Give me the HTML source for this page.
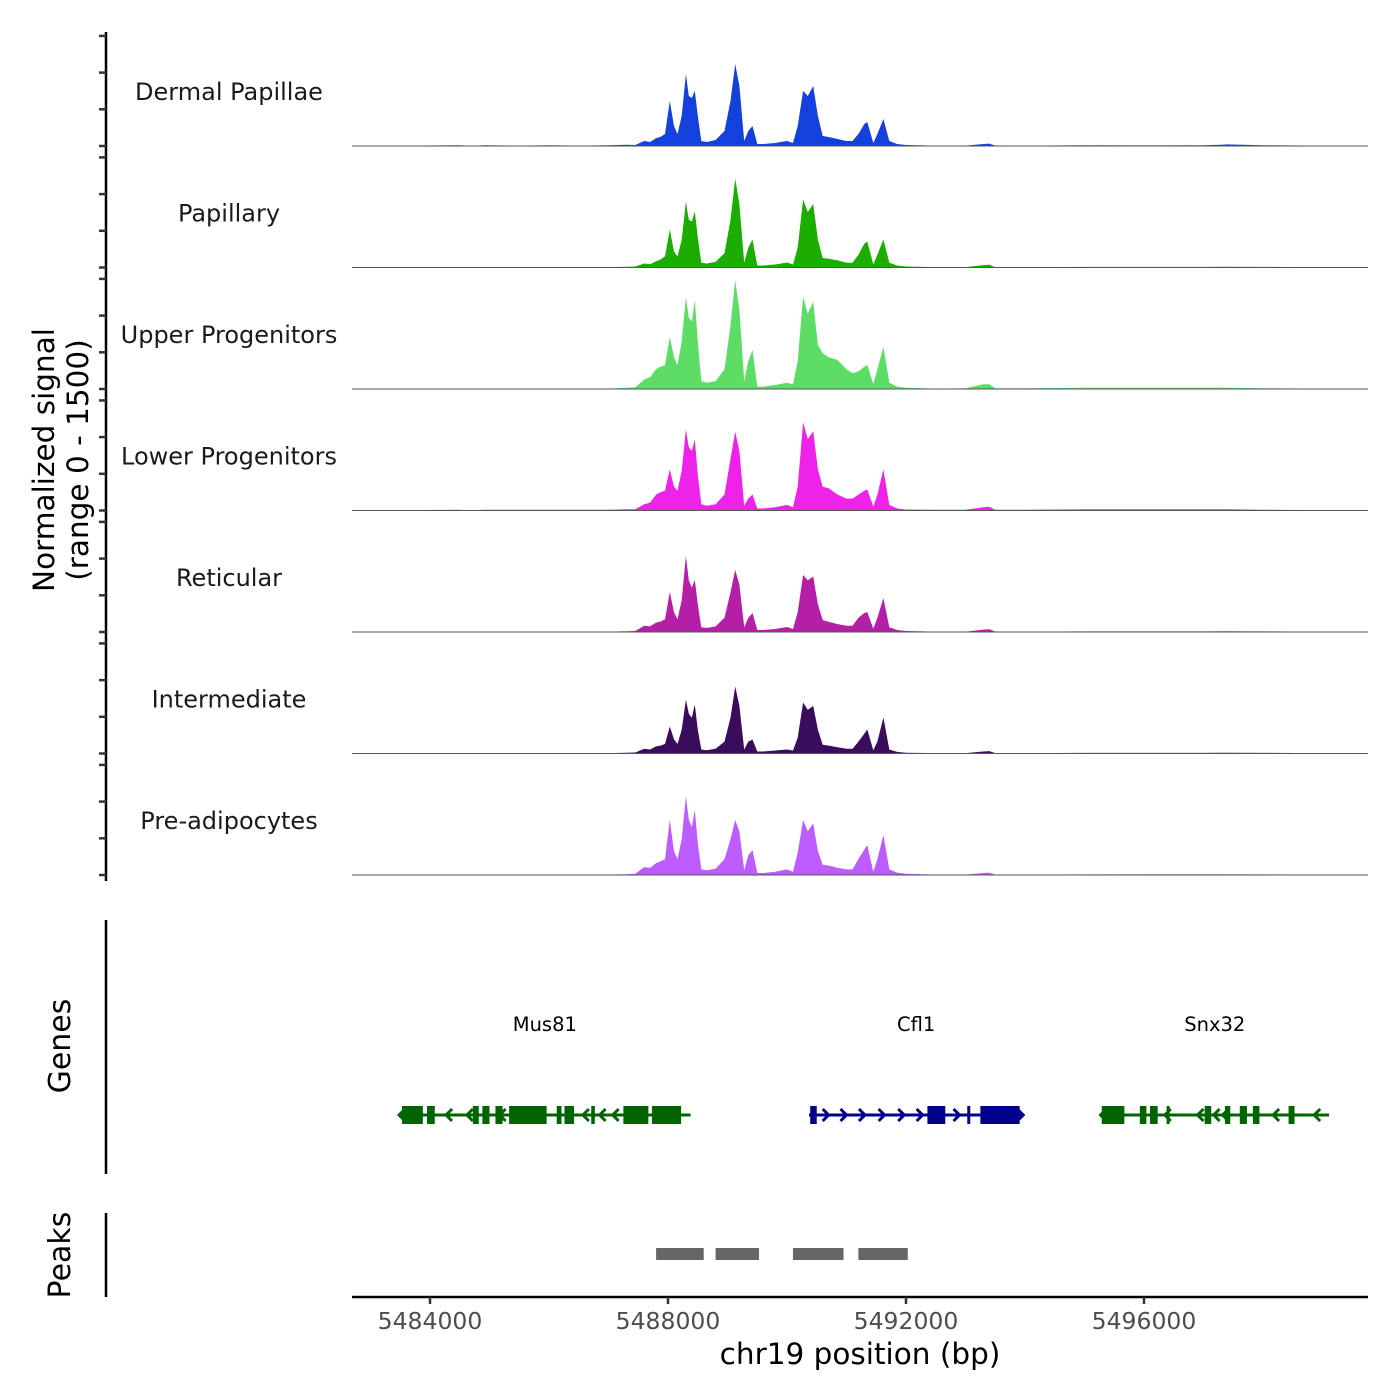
<!DOCTYPE html>
<html><head><meta charset="utf-8"><style>
body{margin:0;background:#fff}
svg{display:block;font-family:"DejaVu Sans","Liberation Sans",sans-serif}
</style></head><body>
<svg id="chart" width="1400" height="1400" viewBox="0 0 1400 1400" xmlns="http://www.w3.org/2000/svg">
<rect width="1400" height="1400" fill="#fff"/>
<g id="tracks"></g>
<line x1="106" y1="32" x2="106" y2="881" stroke="#000" stroke-width="2.5"/>
<g id="yticks"></g>
<text transform="translate(54,460) rotate(-90)" text-anchor="middle" font-size="29.5">Normalized signal</text>
<text transform="translate(88,460) rotate(-90)" text-anchor="middle" font-size="29.5">(range 0 - 1500)</text>
<line x1="106" y1="920" x2="106" y2="1174" stroke="#000" stroke-width="2.5"/>
<text transform="translate(70,1046) rotate(-90)" text-anchor="middle" font-size="30">Genes</text>
<g id="genes"></g>
<line x1="106" y1="1213" x2="106" y2="1297" stroke="#000" stroke-width="2.5"/>
<text transform="translate(70,1255) rotate(-90)" text-anchor="middle" font-size="30">Peaks</text>
<g id="peaks"></g>
<line x1="352" y1="1297" x2="1368" y2="1297" stroke="#000" stroke-width="2.5"/>
<g id="xticks"></g>
<text x="860" y="1364" text-anchor="middle" font-size="29.5">chr19 position (bp)</text>
</svg>
<script>
const NS="http://www.w3.org/2000/svg";
const positions=[5482700,5484500,5484700,5484900,5485500,5486000,5486500,5487000,5487300,5487450,5487600,5487700,5487800,5487870,5487950,5488030,5488100,5488160,5488230,5488300,5488350,5488400,5488450,5488500,5488560,5488650,5488800,5488950,5489050,5489130,5489200,5489280,5489350,5489420,5489500,5489600,5489800,5490000,5490100,5490180,5490270,5490350,5490440,5490520,5490600,5490700,5490850,5491000,5491100,5491200,5491300,5491350,5491450,5491520,5491620,5491720,5491850,5492000,5492500,5493000,5493300,5493400,5493500,5494000,5495000,5496000,5497000,5497300,5497400,5498000,5499000,5499760];
const trackNames=["Dermal Papillae","Papillary","Upper Progenitors","Lower Progenitors","Reticular","Intermediate","Pre-adipocytes"];
const trackColors=["#1440dc","#1bad00","#5ddc66","#ee22e8","#b51fa8","#3a0c5c","#bd5cff"];
const dermal=[0,10,0,10,5,10,5,10,15,13,63,50,100,113,151,567,252,151,378,907,630,605,693,378,63,50,76,189,567,1033,756,63,189,252,25,25,38,63,38,252,693,630,756,378,126,113,88,63,63,151,277,302,38,151,340,63,25,13,5,5,25,30,5,5,10,8,10,15,20,10,5,0];
const papillary=[0,5,0,5,5,5,5,5,10,13,50,40,80,100,140,479,200,140,350,832,600,580,706,380,60,50,70,180,600,1121,800,60,250,353,25,25,38,63,38,250,857,700,800,350,120,110,90,60,60,160,300,328,40,160,353,60,25,13,5,5,30,35,5,5,8,8,8,10,10,8,5,0];
const upper=[0,5,0,5,5,5,5,5,15,20,120,150,250,280,300,655,400,300,600,1159,900,850,1121,600,100,80,100,250,800,1373,1000,100,350,491,30,30,50,80,60,350,1159,950,1100,554,450,400,365,250,200,220,280,302,60,250,529,80,30,15,5,10,60,60,10,10,15,15,15,15,15,10,5,0];
const lower=[0,10,0,10,10,10,10,10,15,15,80,100,200,230,250,517,300,250,500,1021,800,750,895,450,80,60,80,200,650,995,750,60,150,202,25,25,40,70,40,300,1109,900,1000,517,300,280,200,150,150,200,250,265,50,200,517,70,25,13,10,10,40,45,10,10,15,15,15,15,15,10,5,0];
const reticular=[0,5,0,5,5,5,5,5,10,13,80,70,120,130,160,504,250,160,400,958,650,560,655,350,60,50,70,180,500,781,600,60,180,240,25,25,38,63,38,250,718,650,700,350,150,130,100,80,80,180,240,252,40,180,428,60,25,13,5,5,30,35,5,5,8,8,8,10,10,8,5,0];
const intermediate=[0,5,0,5,5,5,5,5,10,13,60,50,90,100,120,340,180,120,300,680,500,450,617,300,50,40,60,150,450,844,600,50,150,176,25,25,38,50,38,200,643,550,600,300,110,100,80,60,60,150,250,302,40,150,454,50,20,10,5,5,25,30,5,5,8,8,8,10,10,8,5,0];
const preadipo=[0,5,0,5,5,5,5,5,10,15,100,90,150,170,200,693,300,200,450,995,700,600,819,400,70,60,80,200,450,693,550,60,250,315,25,25,40,70,40,280,693,550,650,300,130,120,90,70,70,200,320,378,40,200,504,70,30,15,5,5,25,30,5,5,8,10,10,10,10,8,5,0];
const series=[dermal,papillary,upper,lower,reticular,intermediate,preadipo];
const xTicks=[5484000,5488000,5492000,5496000];
const peakStarts=[5487800,5488800,5490100,5491200];
const peakEnds=[5488600,5489530,5490950,5492030];
const genes=["Mus81","Cfl1","Snx32"];
const geneStart=[5483480,5490370,5495270];
const geneEnd=[5488380,5493970,5499110];
const geneStrand=[-1,1,-1];
const geneColors=["#006400","#00008b","#006400"];
const geneExons=[
 [[5483530,5483880],[5483950,5484080],[5484720,5484820],[5484880,5485000],[5485100,5485220],[5485330,5485960],[5486130,5486210],[5486260,5486420],[5486710,5486770],[5487250,5487670],[5487730,5488220]],
 [[5490390,5490500],[5492360,5492660],[5493030,5493080],[5493250,5493910]],
 [[5495290,5495670],[5495930,5496040],[5496100,5496230],[5496380,5496430],[5497020,5497130],[5497360,5497450],[5497610,5497730],[5497830,5497940],[5498430,5498530]]
];
const geneArrows=[[5483620,5484270,5484620,5485170,5486570,5486850,5487070],[5490700,5491000,5491310,5491640,5491970,5492280,5492900],[5496350,5496900,5497170,5497320,5498170,5498860]];
const X=bp=>430+(bp-5484000)*0.0595;
const trackH=119, base0=146, step=121.5, tickStep=36.7;
const Y=(v,b)=>b-v/1500*trackH;
const tg=document.getElementById('tracks');
series.forEach((vals,i)=>{
  const b=base0+i*step;
  let d="M"+X(positions[0])+","+b;
  vals.forEach((v,j)=>{d+=" L"+X(positions[j]).toFixed(1)+","+Y(v,b).toFixed(1);});
  d+=" L"+X(positions[positions.length-1])+","+b+" Z";
  const p=document.createElementNS(NS,'path');
  p.setAttribute('d',d);p.setAttribute('fill',trackColors[i]);
  
  
  tg.appendChild(p);
  const l=document.createElementNS(NS,'line');
  l.setAttribute('x1',352);l.setAttribute('x2',1368);l.setAttribute('y1',b);l.setAttribute('y2',b);
  l.setAttribute('stroke','#555');l.setAttribute('stroke-width','1');
  
  
  tg.appendChild(l);
  const t=document.createElementNS(NS,'text');
  t.setAttribute('x',229);t.setAttribute('y',b-46);t.setAttribute('text-anchor','middle');t.setAttribute('font-size','24');t.setAttribute('fill','#1a1a1a');
  t.textContent=trackNames[i];
  
  
  tg.appendChild(t);
});
const yt=document.getElementById('yticks');
for(let i=0;i<7;i++){const b=base0+i*step;for(let k=0;k<4;k++){const y=b-k*tickStep;
  const l=document.createElementNS(NS,'line');
  l.setAttribute('x1',99);l.setAttribute('x2',106);l.setAttribute('y1',y);l.setAttribute('y2',y);l.setAttribute('stroke','#333');l.setAttribute('stroke-width','2.5');
  
  
  yt.appendChild(l);}}
const gg=document.getElementById('genes');
const gy=1115;
genes.forEach((g,i)=>{
  const c=geneColors[i];
  const t=document.createElementNS(NS,'text');
  t.setAttribute('x',(X(geneStart[i])+X(geneEnd[i]))/2);t.setAttribute('y',1031);t.setAttribute('text-anchor','middle');t.setAttribute('font-size','19.5');
  t.textContent=g;
  
  
  gg.appendChild(t);
  const l=document.createElementNS(NS,'line');
  l.setAttribute('x1',X(geneStart[i]));l.setAttribute('x2',X(geneEnd[i]));l.setAttribute('y1',gy);l.setAttribute('y2',gy);l.setAttribute('stroke',c);l.setAttribute('stroke-width','3');
  
  
  gg.appendChild(l);
  const ends=[...geneArrows[i], geneStrand[i]<0?geneStart[i]:geneEnd[i]];
  ends.forEach(a=>{const x=X(a),s=geneStrand[i];
    const p=document.createElementNS(NS,'path');
    p.setAttribute('d',`M${x-s*6},${gy-6} L${x},${gy} L${x-s*6},${gy+6}`);
    p.setAttribute('fill','none');p.setAttribute('stroke',c);p.setAttribute('stroke-width','3');
    
    
    gg.appendChild(p);});
  geneExons[i].forEach(e=>{
    const r=document.createElementNS(NS,'rect');
    r.setAttribute('x',X(e[0]));r.setAttribute('width',Math.max(3,X(e[1])-X(e[0])));r.setAttribute('y',gy-9);r.setAttribute('height',18);r.setAttribute('fill',c);
    
    
    gg.appendChild(r);});
});
const pg=document.getElementById('peaks');
peakStarts.forEach((s,i)=>{
  const r=document.createElementNS(NS,'rect');
  r.setAttribute('x',X(s));r.setAttribute('width',X(peakEnds[i])-X(s));r.setAttribute('y',1248);r.setAttribute('height',12);r.setAttribute('fill','#666');
  
  
  pg.appendChild(r);});
const xg=document.getElementById('xticks');
xTicks.forEach(v=>{
  const l=document.createElementNS(NS,'line');
  l.setAttribute('x1',X(v));l.setAttribute('x2',X(v));l.setAttribute('y1',1297);l.setAttribute('y2',1304);l.setAttribute('stroke','#333');l.setAttribute('stroke-width','2.5');
  
  
  xg.appendChild(l);
  const t=document.createElementNS(NS,'text');
  t.setAttribute('x',X(v));t.setAttribute('y',1329);t.setAttribute('text-anchor','middle');t.setAttribute('font-size','23.5');t.setAttribute('fill','#4d4d4d');
  t.textContent=String(v);
  
  
  xg.appendChild(t);});
</script>
</body></html>
